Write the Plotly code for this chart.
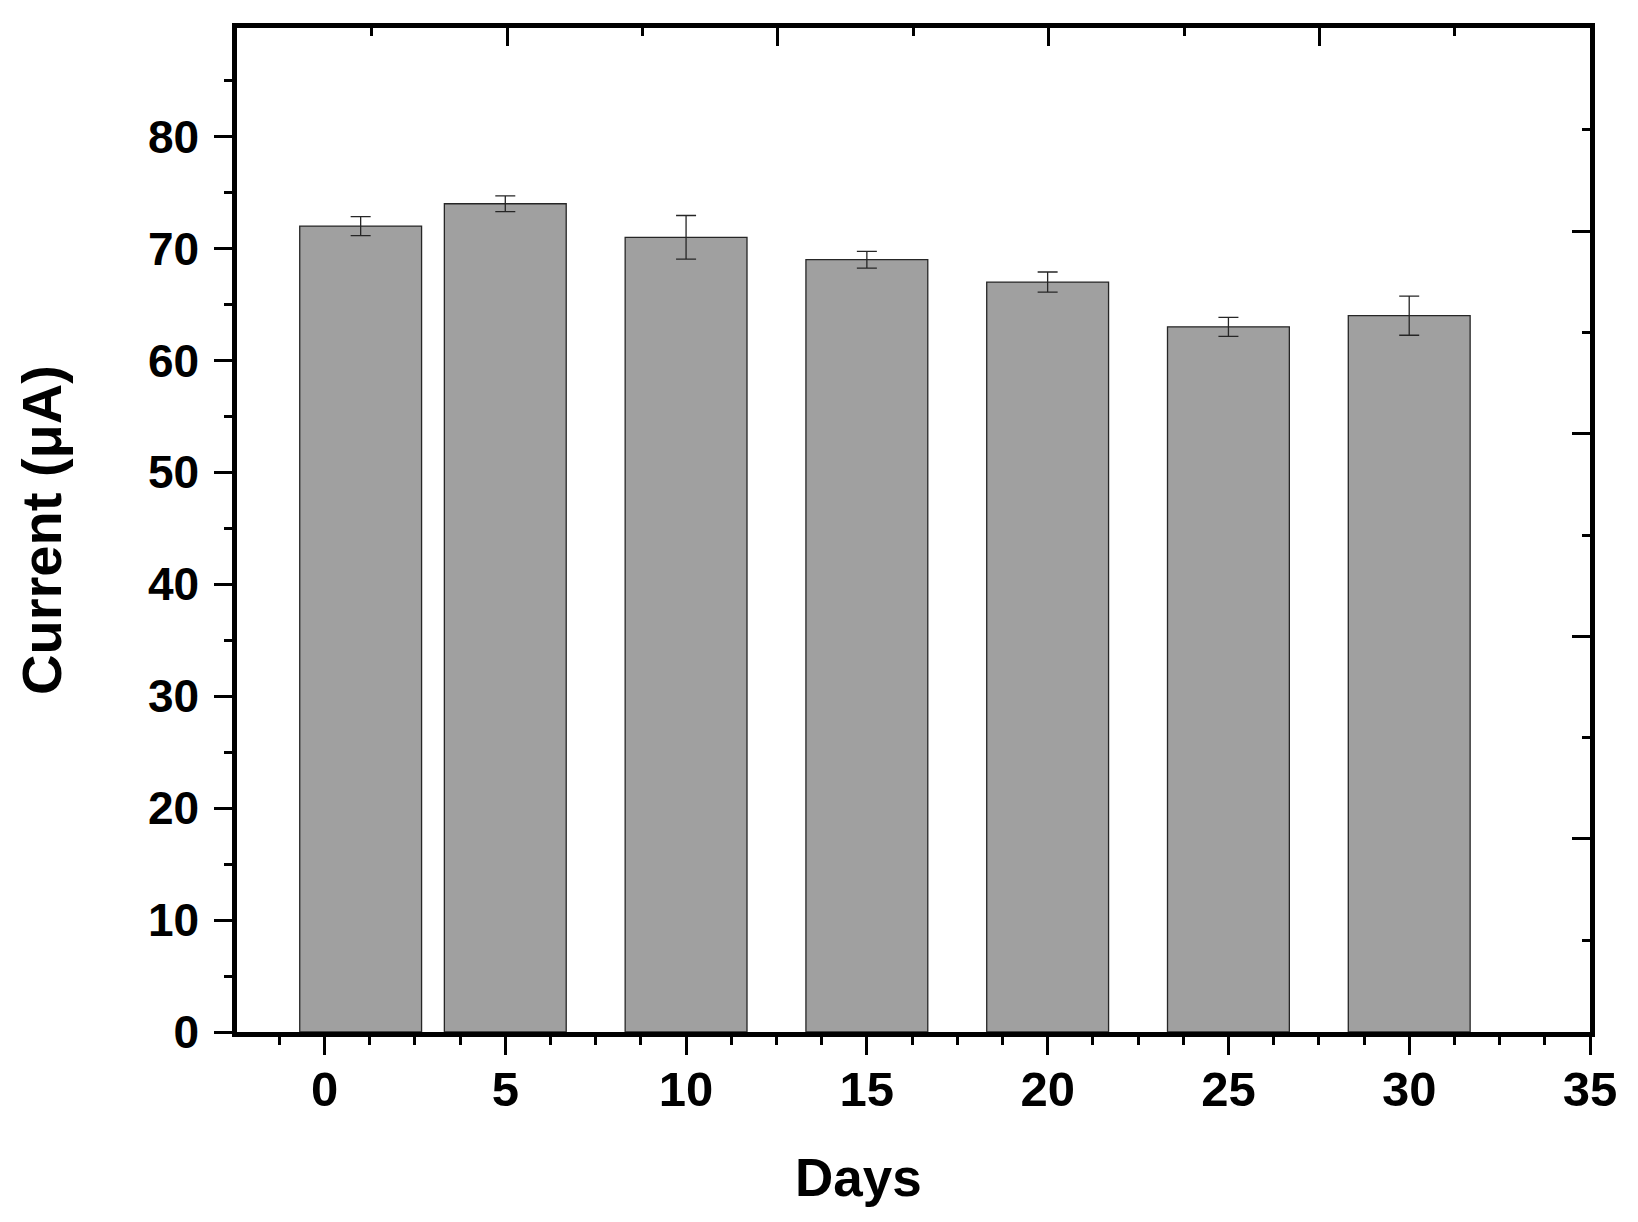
import plotly.graph_objects as go

# Data
days = [1, 5, 10, 15, 20, 25, 30]
current = [72, 74, 71, 69, 67, 63, 64]
current_err = [0.85, 0.7, 1.95, 0.75, 0.9, 0.85, 1.75]

x_tickvals = [0, 5, 10, 15, 20, 25, 30, 35]
y_tickvals = [0, 10, 20, 30, 40, 50, 60, 70, 80]

FONT = "Liberation Sans, Arial, sans-serif"
X_RANGE = [-2.42, 35]
Y_RANGE = [0, 89.7]

fig = go.Figure()
fig.add_trace(go.Bar(
    x=days, y=current, width=3.37,
    marker=dict(color="#A0A0A0", line=dict(color="#262626", width=1.3)),
    error_y=dict(type="data", array=current_err, visible=True,
                 color="#262626", thickness=1.3, width=10),
    showlegend=False,
))
# empty trace so the mirrored top/right axes are drawn
fig.add_trace(go.Scatter(x=[], y=[], xaxis="x2", yaxis="y2",
                         showlegend=False, hoverinfo="skip"))

axis_common = dict(showgrid=False, zeroline=False, showline=True,
                   linecolor="black", linewidth=4.5, tickcolor="black",
                   tickwidth=3)

fig.update_layout(
    width=1638, height=1222,
    paper_bgcolor="white", plot_bgcolor="white",
    margin=dict(l=229, r=56, t=20, b=198),
    font=dict(family=FONT, color="black"),
    xaxis=dict(**axis_common, range=X_RANGE, tickmode="array", tickvals=x_tickvals,
               ticks="outside", ticklen=18,
               minor=dict(ticks="outside", ticklen=8, tickwidth=3, tickcolor="black",
                          tick0=0, dtick=1.25),
               tickfont=dict(family=FONT, size=49, weight="bold"),
               ticklabelstandoff=-8),
    xaxis2=dict(**axis_common, overlaying="x", side="top", range=X_RANGE,
                tickmode="linear", tick0=5.05, dtick=7.49, ticks="inside", ticklen=18,
                minor=dict(ticks="inside", ticklen=8, tickwidth=3, tickcolor="black",
                           tick0=5.05, dtick=3.745),
                showticklabels=False),
    yaxis=dict(**axis_common, range=Y_RANGE, tickmode="array", tickvals=y_tickvals,
               ticks="outside", ticklen=18,
               minor=dict(ticks="outside", ticklen=8, tickwidth=3, tickcolor="black",
                          tick0=0, dtick=5),
               tickfont=dict(family=FONT, size=46, weight="bold"),
               ticklabelstandoff=6,
               title=dict(text="Current (μA)", standoff=70,
                          font=dict(family=FONT, size=56, weight="bold"))),
    yaxis2=dict(**axis_common, overlaying="y", side="right", range=Y_RANGE,
                tickmode="linear", tick0=17.25, dtick=18.1, ticks="inside", ticklen=18,
                minor=dict(ticks="inside", ticklen=8, tickwidth=3, tickcolor="black",
                           tick0=17.25, dtick=9.05),
                showticklabels=False),
    annotations=[dict(text="Days", xref="paper", yref="paper", x=0.4597, y=-0.1454,
                      xanchor="center", yanchor="middle", showarrow=False,
                      font=dict(family=FONT, size=53, weight="bold"))],
)

fig.write_html("out.html")
